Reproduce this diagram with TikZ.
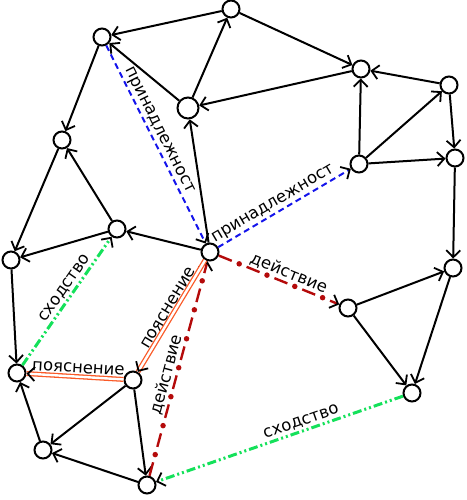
\documentclass[tikz,border=0pt]{standalone}
\usepackage{fontspec}
\newfontfamily\labfont{DejaVu Sans}
\usetikzlibrary{arrows.meta}
\definecolor{bl}{RGB}{20,20,235}
\definecolor{dred}{RGB}{180,10,10}
\definecolor{gr}{RGB}{20,225,90}
\definecolor{orl}{RGB}{250,90,40}
\begin{document}
\begin{tikzpicture}[x=1pt,y=-1pt,
  vtx/.style={circle, draw, line width=2pt, fill=white, minimum size=17pt, inner sep=0pt},
  big/.style={minimum size=21pt},
  arr/.style={-{Straight Barb[length=7pt,width=14pt,color=black,line width=1.8pt]}},
  edge/.style={line width=2pt, arr},
  lab/.style={font=\labfont\fontsize{16.5}{16.5}\selectfont, inner sep=1.5pt, text=black},
  blueline/.style={draw=bl, line width=2pt, dash pattern=on 6pt off 4pt},
  redline/.style={draw=dred, line width=2.4pt, dash pattern=on 14pt off 16pt},
  reddots/.style={draw=dred, line width=5.5pt, line cap=round, dash pattern=on 0pt off 30pt, dash phase=8pt},
  greenline/.style={draw=gr, line width=3pt, dash pattern=on 9pt off 3pt on 2pt off 3pt on 2pt off 3pt},
  orline/.style={draw=orl, double=white, line width=1.3pt, double distance=2.4pt},
  ortip/.style={draw=white, line width=0.1pt, arr},
]
\useasboundingbox (0,0) rectangle (466,500);
\node[vtx] (A) at (231,9) {};
\node[vtx] (B) at (102,37) {};
\node[vtx] (C) at (361,69) {};
\node[vtx] (D) at (449,85) {};
\node[vtx,big] (E) at (188,108) {};
\node[vtx] (F) at (62,140) {};
\node[vtx] (G) at (359,164) {};
\node[vtx] (H) at (455,158) {};
\node[vtx] (I) at (117,229) {};
\node[vtx] (J) at (210,252) {};
\node[vtx] (K) at (11,260) {};
\node[vtx] (L) at (453,268) {};
\node[vtx] (M) at (348,308) {};
\node[vtx] (N) at (17,373) {};
\node[vtx] (O) at (133,380) {};
\node[vtx] (P) at (412,393) {};
\node[vtx] (Q) at (43,450) {};
\node[vtx] (R) at (147,485) {};

\draw[edge] (A) -- (B);
\draw[edge] (A) -- (C);
\draw[edge] (E) -- (A);
\draw[edge] (E) -- (B);
\draw[edge] (B) -- (F);
\draw[edge] (I) -- (F);
\draw[edge] (F) -- (K);
\draw[edge] (J) -- (I);
\draw[edge] (J) -- (E);
\draw[edge] (C) -- (E);
\draw[edge] (G) -- (C);
\draw[edge] (D) -- (C);
\draw[edge] (G) -- (D);
\draw[edge] (D) -- (H);
\draw[edge] (G) -- (H);
\draw[edge] (H) -- (L);
\draw[edge] (M) -- (L);
\draw[edge] (L) -- (P);
\draw[edge] (M) -- (P);
\draw[edge] (I) -- (K);
\draw[edge] (K) -- (N);
\draw[edge] (O) -- (Q);
\draw[edge] (Q) -- (N);
\draw[edge] (R) -- (Q);
\draw[edge] (O) -- (R);

\draw[blueline, arr] (B) -- node[lab, sloped, above, pos=0.45] {принадлежност} (J);
\draw[blueline, arr] (J) -- node[lab, sloped, above, pos=0.45] {принадлежност} (G);
\draw[redline, arr] (J) -- node[lab, sloped, above, pos=0.55] {действие} (M);
\draw[reddots] (J) -- (M);
\draw[redline, arr] (R) -- node[lab, sloped, above, pos=0.46] {действие} (J);
\draw[reddots] (R) -- (J);
\draw[orline] (J) -- node[lab, sloped, above, pos=0.46] {пояснение} (O);
\draw[ortip] (J) -- (O);
\draw[orline] (O) -- node[lab, sloped, above, pos=0.47, inner sep=3pt] {пояснение} (N);
\draw[ortip] (O) -- (N);
\draw[greenline, arr] (N) -- node[lab, sloped, above, pos=0.56] {сходство} (I);
\draw[greenline, arr] (P) -- node[lab, sloped, above, pos=0.4] {сходство} (R);
\end{tikzpicture}
\end{document}
